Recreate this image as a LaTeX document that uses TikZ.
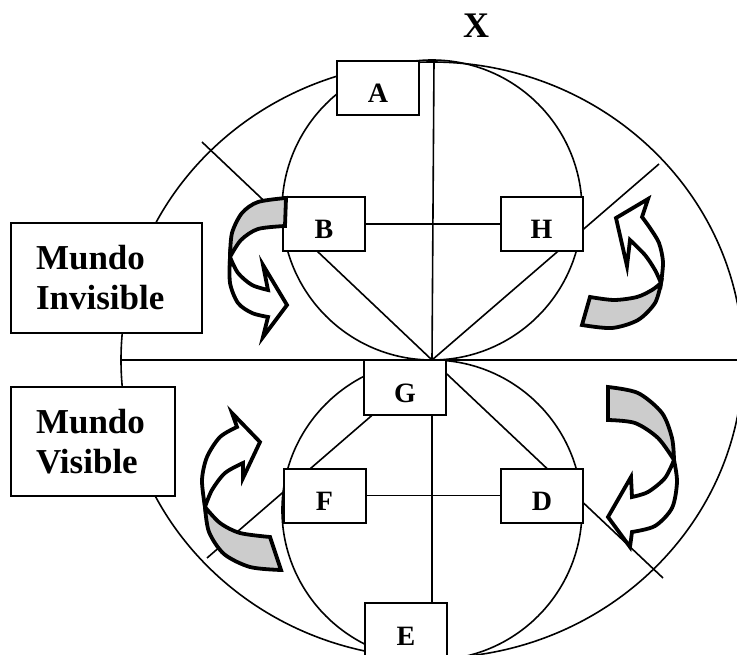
\documentclass[tikz,border=0pt]{standalone}
\usepackage{fontspec}
\setmainfont{Liberation Serif}
\usetikzlibrary{calc}
\pgfdeclarelayer{background}
\pgfsetlayers{background,main}
\definecolor{lgray}{RGB}{204,204,204}
\begin{document}
\begin{tikzpicture}[x=1pt,y=-1pt,
  guide/.style={line width=1.6pt},
  letterbox/.style={draw,line width=2pt,fill=white,minimum width=82pt,minimum height=54pt,inner sep=2pt,font=\fontsize{28}{30}\selectfont\bfseries,text height=30pt,text depth=0pt},
  worldbox/.style={draw,line width=2pt,fill=white,inner xsep=25pt,inner ysep=2pt,align=left,font=\fontsize{35}{40}\selectfont\bfseries},
  backface/.style={draw,fill=lgray,line width=3.8pt,line join=miter},
  frontface/.style={draw,fill=white,line width=3.8pt,line join=miter}]
\useasboundingbox (0,0) rectangle (737,655);

% boxes
\node[letterbox] (A) at (378,88) {A};
\node[letterbox] (B) at (324,224) {B};
\node[letterbox] (H) at (541.5,224) {H};
\node[letterbox] (G) at (405,387.5) {G};
\node[letterbox] (F) at (324.5,495.5) {F};
\node[letterbox] (D) at (542,495.5) {D};
\node[letterbox] (E) at (406,630) {E};
\node[worldbox,minimum width=191pt,minimum height=110pt,text width=141pt] (MI) at (106.5,278) {Mundo\\Invisible};
\node[worldbox,minimum width=164pt,minimum height=109pt,text width=114pt] (MV) at (93,441.5) {Mundo\\Visible};
\node[font=\fontsize{36}{38}\selectfont\bfseries] (X) at (476,26) {X};

% reference points
\coordinate (O) at (432,360);
\coordinate (T) at (434,61);
\coordinate (Cu) at (432,210);
\coordinate (Cl) at (432,510);
\coordinate (L) at (121,360);
\coordinate (R) at (745,360);
\coordinate (bEnd) at (202,142);
\coordinate (hEnd) at (659,164);
\coordinate (fStart) at (436,360);
\coordinate (fEnd) at (207,558);
\coordinate (dEnd) at (663,578);

\begin{pgfonlayer}{background}
\draw[guide] (O) ellipse [x radius=311pt, y radius=298pt];
\draw[guide] (Cu) circle [radius=150pt];
\draw[guide] (Cl) circle [radius=150pt];
\draw[guide] (L) -- (R);
\draw[guide] (T) -- (O) -- (O |- E.north);
\draw[guide] (B.east) -- (H.west);
\draw[guide] (F.east) -- (D.west);
\draw[guide] (O) -- (bEnd);
\draw[guide] (O) -- (hEnd);
\draw[guide] (fStart) -- (fEnd);
\draw[guide] (O) -- (dEnd);
\end{pgfonlayer}

% curved arrow near B
\draw[backface] (286,198) -- (285,226) -- plot[smooth] coordinates {(285,226) (258,229) (241,240) (230,257)} -- plot[smooth] coordinates {(230,257) (232,233) (242,213) (258,202) (286,198)} -- cycle;
\draw[frontface] plot[smooth] coordinates {(230,257) (230,283) (238,303) (252,313) (268,317)} -- (263,337) -- (287,305) -- (263,265) -- (268,290) -- plot[smooth] coordinates {(268,290) (252,285) (238,273) (230,257)} -- cycle;

% curved arrow near H
\draw[backface] (582,325) -- (590,297) -- plot[smooth] coordinates {(590,297) (614,300) (637,297) (652,290) (661,283)} -- plot[smooth] coordinates {(661,283) (655,303) (638,320) (612,328) (582,325)} -- cycle;
\draw[frontface] plot[smooth] coordinates {(661,283) (663,262) (659,243) (650,228) (642,217)} -- (648,199) -- (616,218) -- (627,266) -- (630,240) -- plot[smooth] coordinates {(630,240) (645,255) (655,270) (661,283)} -- cycle;

% curved arrow near D
\draw[backface] (608,387) -- (608,420) -- plot[smooth] coordinates {(608,420) (635,423) (658,438) (674,460)} -- plot[smooth] coordinates {(674,460) (672,438) (662,413) (638,393) (608,387)} -- cycle;
\draw[frontface] plot[smooth] coordinates {(674,460) (677,482) (672,508) (655,526) (632,532)} -- (630,547) -- (608,517) -- (631,477) -- (632,497) -- plot[smooth] coordinates {(632,497) (648,492) (665,478) (674,460)} -- cycle;

% curved arrow near F
\draw[backface] (270,537) -- (281,570) -- plot[smooth] coordinates {(281,570) (250,567) (224,554) (209,532) (205,507)} -- plot[smooth] coordinates {(205,507) (220,523) (240,533) (270,537)} -- cycle;
\draw[frontface] plot[smooth] coordinates {(205,507) (202,480) (207,457) (220,437) (237,427)} -- (232,413) -- (260,442) -- (243,478) -- (243,463) -- plot[smooth] coordinates {(243,463) (225,473) (212,490) (205,507)} -- cycle;
\end{tikzpicture}
\end{document}
